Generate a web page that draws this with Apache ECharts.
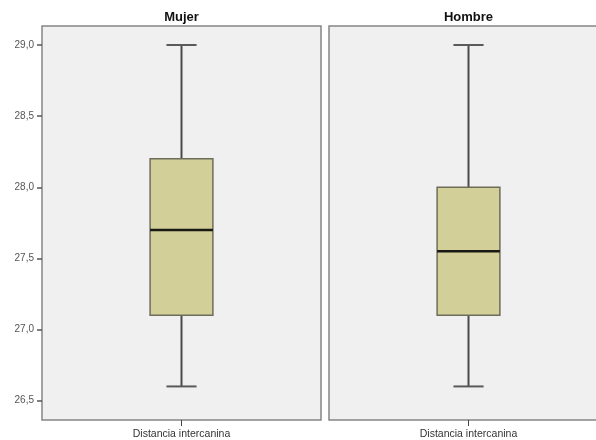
<!DOCTYPE html>
<html>
<head>
<meta charset="utf-8">
<script src="https://cdn.jsdelivr.net/npm/echarts@6/dist/echarts.min.js"></script>
<style>html,body{margin:0;padding:0;background:#fff;overflow:hidden;width:596px;height:440px;}#c{width:612px;height:440px;}</style>
</head>
<body>
<div id="c"></div>
<script>
const categories = ['Distancia intercanina'];
const panels = ['Mujer', 'Hombre'];
// [min, Q1, median, Q3, max]
const mujerBox = [26.6, 27.1, 27.7, 28.2, 29.0];
const hombreBox = [26.6, 27.1, 27.55, 28.0, 29.0];
const yTicks = [26.5, 27.0, 27.5, 28.0, 28.5, 29.0];

const chart = echarts.init(document.getElementById('c'), null, {renderer: 'canvas'});

function renderBox(params, api) {
  const x = api.value(0);
  const lo = api.coord([x, api.value(1)]);
  const q1 = api.coord([x, api.value(2)]);
  const med = api.coord([x, api.value(3)]);
  const q3 = api.coord([x, api.value(4)]);
  const hi = api.coord([x, api.value(5)]);
  const band = api.size([1, 0])[0];
  const bw = band * 0.225;
  const cw = band * 0.108;
  const cx = lo[0];
  const wStyle = {stroke: '#4a4a4a', lineWidth: 2};
  return {
    type: 'group',
    children: [
      {type: 'line', shape: {x1: cx, y1: hi[1], x2: cx, y2: q3[1]}, style: wStyle},
      {type: 'line', shape: {x1: cx, y1: q1[1], x2: cx, y2: lo[1]}, style: wStyle},
      {type: 'line', shape: {x1: cx - cw / 2, y1: hi[1], x2: cx + cw / 2, y2: hi[1]}, style: {stroke: '#5a5a5a', lineWidth: 2}},
      {type: 'line', shape: {x1: cx - cw / 2, y1: lo[1], x2: cx + cw / 2, y2: lo[1]}, style: {stroke: '#5a5a5a', lineWidth: 2}},
      {type: 'rect', shape: {x: cx - bw / 2, y: q3[1], width: bw, height: q1[1] - q3[1]},
        style: {fill: '#d3cf98', stroke: '#6e6d5c', lineWidth: 1.5}},
      {type: 'line', shape: {x1: cx - bw / 2, y1: med[1], x2: cx + bw / 2, y2: med[1]},
        style: {stroke: '#1a1a14', lineWidth: 2.5}}
    ]
  };
}

const gridCommon = {top: 26, bottom: 20, width: 279, show: true, backgroundColor: '#f0f0f0', borderColor: '#858585', borderWidth: 1.5, containLabel: false};

const yCommon = {
  type: 'value', min: 26.364, max: 29.1335,
  axisLine: {show: false}, splitLine: {show: false}
};

const option = {
  animation: false,
  backgroundColor: '#ffffff',
  grid: [
    Object.assign({left: 42}, gridCommon),
    Object.assign({left: 329}, gridCommon)
  ],
  xAxis: [0, 1].map(i => ({
    type: 'category', gridIndex: i, data: categories,
    axisLine: {show: false},
    axisTick: {show: true, alignWithLabel: true, length: 6, lineStyle: {color: '#444', width: 1}},
    axisLabel: {fontSize: 10.5, color: '#333', fontFamily: 'Liberation Sans', margin: 9}
  })),
  yAxis: [
    Object.assign({gridIndex: 0,
      axisTick: {show: true, length: 5, customValues: yTicks, lineStyle: {color: '#555', width: 1.5}},
      axisLabel: {show: true, customValues: yTicks, fontSize: 10, color: '#555', fontFamily: 'Liberation Sans', margin: 8,
        formatter: v => v.toFixed(1).replace('.', ',')}
    }, yCommon),
    Object.assign({gridIndex: 1, axisTick: {show: false}, axisLabel: {show: false}}, yCommon)
  ],
  graphic: [
    {type: 'text', x: 181.5, y: 17, style: {text: panels[0], align: 'center', verticalAlign: 'middle', font: 'bold 13px "Liberation Sans"', fill: '#111'}},
    {type: 'text', x: 468.5, y: 17, style: {text: panels[1], align: 'center', verticalAlign: 'middle', font: 'bold 13px "Liberation Sans"', fill: '#111'}}
  ],
  series: [
    {type: 'custom', xAxisIndex: 0, yAxisIndex: 0, renderItem: renderBox, clip: false,
      data: [[0].concat(mujerBox)], encode: {x: 0, y: [1, 2, 3, 4, 5]}},
    {type: 'custom', xAxisIndex: 1, yAxisIndex: 1, renderItem: renderBox, clip: false,
      data: [[0].concat(hombreBox)], encode: {x: 0, y: [1, 2, 3, 4, 5]}}
  ]
};
chart.setOption(option);
</script>
</body>
</html>
